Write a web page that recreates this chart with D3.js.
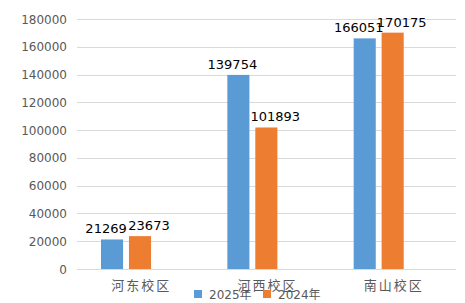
<!DOCTYPE html>
<html><head><meta charset="utf-8">
<script src="https://cdn.jsdelivr.net/npm/d3@7"></script>
<style>body{margin:0;background:#fff}svg{display:block}</style>
</head><body><svg id="c" width="465" height="303"></svg>
<script>
const categories = ["河东校区", "河西校区", "南山校区"];
const seriesNames = ["2025年", "2024年"];
const values2025 = [21269, 139754, 166051];
const values2024 = [23673, 101893, 170175];
const yTicks = [0, 20000, 40000, 60000, 80000, 100000, 120000, 140000, 160000, 180000];

(function () {
const svg = d3.select("#c");
const colors = ["#5b9bd5", "#ed7d31"];
const font = "'DejaVu Sans','Noto Sans CJK SC',sans-serif";
const pLeft = 77, pRight = 456, pTop = 19, pBottom = 269;

const y = d3.scaleLinear().domain([0, 180000]).range([pBottom, pTop]);
const x0 = d3.scaleBand().domain(categories).range([pLeft, pRight]).padding(0);
// three slots per category (third slot empty, as in the source chart)
const x1 = d3.scaleBand().domain([0, 1, 2]).range([24, 24 + 78]).paddingInner(0.21).paddingOuter(0);

// gridlines
svg.append("g").selectAll("line").data(yTicks).join("line")
  .attr("x1", pLeft).attr("x2", pRight)
  .attr("y1", d => Math.round(y(d)) + 0.5).attr("y2", d => Math.round(y(d)) + 0.5)
  .attr("stroke", "#d9d9d9").attr("stroke-width", 1);

// y tick labels
svg.append("g").selectAll("text").data(yTicks).join("text")
  .attr("x", 67).attr("y", d => y(d) + 4.5)
  .attr("text-anchor", "end").attr("font-family", font).attr("font-size", 12)
  .attr("fill", "#595959").text(d => d);

const series = [values2025, values2024];
const bx = (ci, si) => x0(categories[ci]) + x1(si);

series.forEach((vals, si) => {
  svg.append("g").selectAll("rect").data(vals).join("rect")
    .attr("x", (d, i) => bx(i, si))
    .attr("width", x1.bandwidth())
    .attr("y", d => y(d))
    .attr("height", d => y(0) - y(d))
    .attr("fill", colors[si]);
});

// value labels
const labelDx = [-6, 9];
series.forEach((vals, si) => {
  svg.append("g").selectAll("text").data(vals).join("text")
    .attr("x", (d, i) => bx(i, si) + x1.bandwidth() / 2 + labelDx[si])
    .attr("y", d => y(d) - 6)
    .attr("text-anchor", "middle").attr("font-family", font).attr("font-size", 13)
    .attr("fill", "#000").text(d => d);
});

// category labels
svg.append("g").selectAll("text").data(categories).join("text")
  .attr("x", d => x0(d) + x0.bandwidth() / 2 + 1)
  .attr("y", 290)
  .attr("text-anchor", "middle").attr("font-family", font).attr("font-size", 13)
  .attr("letter-spacing", 2)
  .attr("fill", "#595959").text(d => d);

// legend
const legendX = [194, 263];
const lg = svg.append("g").selectAll("g").data(seriesNames).join("g")
  .attr("transform", (d, i) => `translate(${legendX[i]},290)`);
lg.append("rect").attr("width", 8).attr("height", 8).attr("fill", (d, i) => colors[i]);
lg.append("text").attr("x", 15).attr("y", 8.5).attr("font-family", font).attr("font-size", 12)
  .attr("fill", "#595959").text(d => d);
})();
</script></body></html>
